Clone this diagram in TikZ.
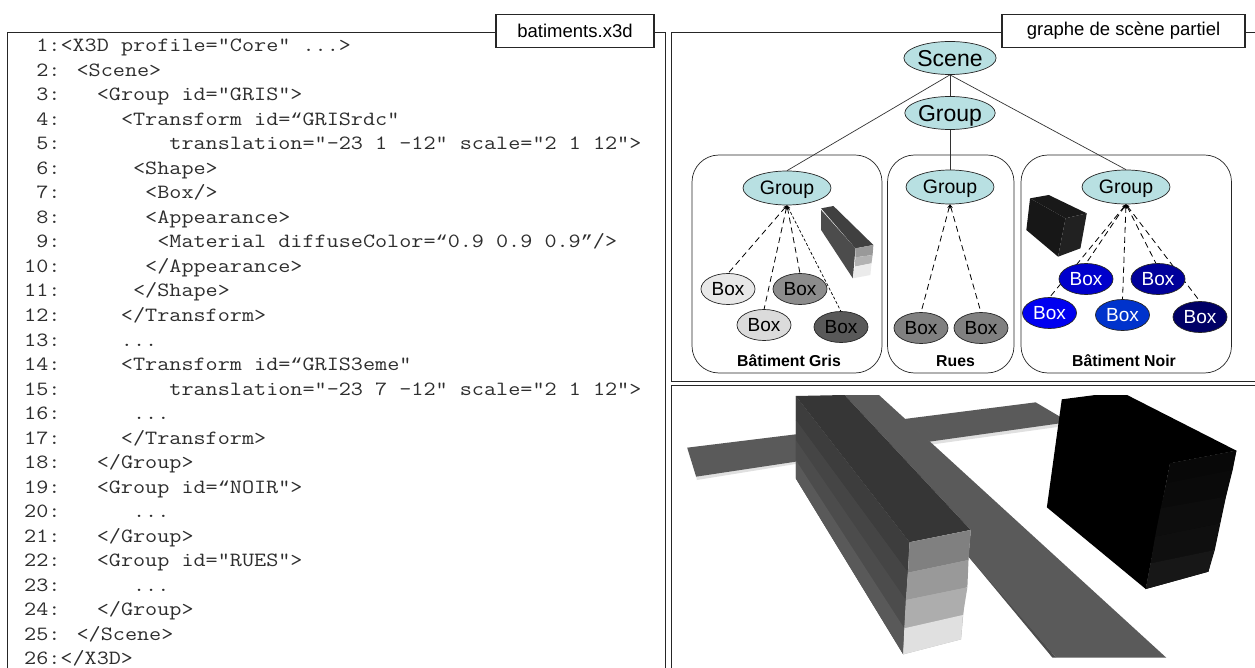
\documentclass[tikz,border=0pt]{standalone}
\usepackage{fontspec}
\setmainfont{Liberation Sans}
\newfontfamily\quotefont{Liberation Mono}
\newcommand{\openq}{{\quotefont\fontsize{20.2}{24}\selectfont “}}
\newcommand{\closeq}{{\quotefont\fontsize{20.2}{24}\selectfont ”}}
\usetikzlibrary{shapes.geometric,arrows.meta}
\definecolor{nodeblue}{HTML}{B8E0E2}
\definecolor{roadgray}{HTML}{5A5A5A}
\tikzset{
  panel/.style={line width=1pt,draw=black!85},
  tag/.style={draw=black!85,line width=1.1pt,fill=white,inner sep=0pt,font=\fontsize{18.5}{20}\selectfont},
  codetxt/.style={anchor=base west,inner sep=0pt,yscale=.86,transform shape,font=\ttfamily\fontsize{23.5}{24}\selectfont,text=black!82},
  oval/.style={ellipse,draw=black!85,line width=.7pt,inner sep=0pt,fill=nodeblue,text depth=0pt},
  topnode/.style={oval,minimum width=76pt,minimum height=33pt,font=\fontsize{23}{24}\selectfont},
  grpnode/.style={oval,minimum width=88pt,minimum height=34pt,font=\fontsize{19.5}{21}\selectfont},
  boxnode/.style={oval,minimum width=54pt,minimum height=31pt,font=\fontsize{19}{21}\selectfont},
  wbox/.style={boxnode,text=white},
  area/.style={draw=black!85,line width=.7pt,rounded corners=27pt},
  areatitle/.style={font=\bfseries\fontsize{15.8}{18}\selectfont,inner sep=0pt},
  solidlink/.style={draw=black!80,line width=.7pt},
  dashlink/.style={draw=black,line width=.8pt,dash pattern=on 6pt off 4pt,{Stealth[length=4pt,width=3.5pt]}-},
  dotlink/.style={draw=black,line width=.7pt,dash pattern=on 3pt off 2pt,{Stealth[length=4pt,width=3.5pt]}-},
  zoomA/.style={shift={(670,0)},x=0.37313pt,y=-0.33333pt},
  zoomB/.style={shift={(670,380)},x=0.37313pt,y=-0.33333pt},
}
\newcommand{\codeline}[2]{\node[codetxt] (line#1) at (24,{52+24.5*(#1-1)}) {#2};}
\begin{document}
\begin{tikzpicture}[x=1pt,y=-1pt]
\useasboundingbox (0,0) rectangle (1255,668);
\fill[white] (0,0) rectangle (1255,668);
% panels
\draw[panel] (7.5,668) -- (7.5,33) -- (665.5,33) -- (665.5,668);
\draw[panel] (1255,33) -- (671.5,33) -- (671.5,381) -- (1255,381);
\draw[panel] (1255,385) -- (671.5,385) -- (671.5,668);
\node[tag,minimum width=158pt,minimum height=33pt] (tagfile) at (575,31) {batiments.x3d};
\node[tag,minimum width=243pt,minimum height=33pt] (taggraph) at (1123.5,31) {graphe de scène partiel};
% code
\codeline{1}{~1:<X3D profile="Core" ...>}
\codeline{2}{~2: <Scene>}
\codeline{3}{~3:~~~<Group id="GRIS">}
\codeline{4}{~4:~~~~~<Transform id=\openq GRISrdc"}
\codeline{5}{~5:~~~~~~~~~translation="-23 1 -12" scale="2 1 12">}
\codeline{6}{~6:~~~~~~<Shape>}
\codeline{7}{~7:~~~~~~~<Box/>}
\codeline{8}{~8:~~~~~~~<Appearance>}
\codeline{9}{~9:~~~~~~~~<Material diffuseColor=\openq 0.9 0.9 0.9\closeq/>}
\codeline{10}{10:~~~~~~~</Appearance>}
\codeline{11}{11:~~~~~~</Shape>}
\codeline{12}{12:~~~~~</Transform>}
\codeline{13}{13:~~~~~...}
\codeline{14}{14:~~~~~<Transform id=\openq GRIS3eme"}
\codeline{15}{15:~~~~~~~~~translation="-23 7 -12" scale="2 1 12">}
\codeline{16}{16:~~~~~~...}
\codeline{17}{17:~~~~~</Transform>}
\codeline{18}{18:~~~</Group>}
\codeline{19}{19:~~~<Group id=\openq NOIR">}
\codeline{20}{20:~~~~~~...}
\codeline{21}{21:~~~</Group>}
\codeline{22}{22:~~~<Group id="RUES">}
\codeline{23}{23:~~~~~~...}
\codeline{24}{24:~~~</Group>}
\codeline{25}{25: </Scene>}
\codeline{26}{26:</X3D>}
% areas
\draw[area] (692,155) rectangle (882,373);
\draw[area] (887.5,155) rectangle (1014,373);
\draw[area] (1021,155) rectangle (1231.5,373);
\node[areatitle] (titleg) at (789,361) {Bâtiment Gris};
\node[areatitle] (titler) at (955.5,361) {Rues};
\node[areatitle] (titlen) at (1124,361) {Bâtiment Noir};
% thumbnails
\begin{scope}[zoomA]
\fill[black!70] (405,630) -- (497,745) -- (490,835) -- (405,690) -- cycle;
\fill[black!75] (405,625) -- (438,618) -- (545,735) -- (497,745) -- cycle;
\fill[black!40] (497,745) -- (545,735) -- (543,765) -- (497,772) -- cycle;
\fill[black!30] (497,772) -- (543,765) -- (540,790) -- (495,800) -- cycle;
\fill[black!8] (495,800) -- (540,790) -- (537,825) -- (490,835) -- cycle;
\fill[black!90] (965,595) -- (1015,585) -- (1117,640) -- (1060,655) -- cycle;
\fill[black!91] (965,595) -- (1060,655) -- (1040,770) -- (955,690) -- cycle;
\fill[black!87] (1060,655) -- (1117,640) -- (1100,745) -- (1040,770) -- cycle;
\end{scope}
% nodes
\node[topnode] (scene) at (950,58) {Scene};
\node[topnode] (group) at (950,113) {Group};
\node[grpnode] (gg) at (787,188) {Group};
\node[grpnode] (gr) at (950,187) {Group};
\node[grpnode] (gn) at (1126,187) {Group};
\draw[solidlink] (scene.south) -- (group.north);
\draw[solidlink] (scene.south) -- (gg.north);
\draw[solidlink] (scene.south) -- (gn.north);
\draw[solidlink] (group.south) -- (gr.north);
\coordinate (g1t) at (728,273.5);
\coordinate (g2t) at (800,273.5);
\coordinate (g3t) at (764,309.5);
\coordinate (g4t) at (841,311.5);
\coordinate (r1t) at (921,312.5);
\coordinate (r2t) at (981,312.5);
\coordinate (n1t) at (1086,263.5);
\coordinate (n2t) at (1156,263.5);
\coordinate (n3t) at (1049.5,297.5);
\coordinate (n4t) at (1122.5,299.5);
\coordinate (n5t) at (1200,301.5);
\draw[dashlink] (gg.south) -- (g1t);
\draw[dashlink] (gg.south) -- (g2t);
\draw[dashlink] (gg.south) -- (g3t);
\draw[dotlink] (gg.south) -- (g4t);
\draw[dashlink] (gr.south) -- (r1t);
\draw[dashlink] (gr.south) -- (r2t);
\draw[dashlink] (gn.south) -- (n1t);
\draw[dashlink] (gn.south) -- (n2t);
\draw[dashlink] (gn.south) -- (n3t);
\draw[dashlink] (gn.south) -- (n4t);
\draw[dashlink] (gn.south) -- (n5t);
\node[boxnode,fill=black!9] (g1) at (728,289) {Box};
\node[boxnode,fill=black!45] (g2) at (800,289) {Box};
\node[boxnode,fill=black!14] (g3) at (764,325) {Box};
\node[boxnode,fill=black!65] (g4) at (841,327) {Box};
\node[boxnode,fill=black!50] (r1) at (921,328) {Box};
\node[boxnode,fill=black!50] (r2) at (981,328) {Box};
\node[wbox,fill={rgb,255:red,0;green,0;blue,204}] (n1) at (1086,279) {Box};
\node[wbox,fill={rgb,255:red,0;green,0;blue,154}] (n2) at (1158,279) {Box};
\node[wbox,fill={rgb,255:red,0;green,0;blue,240}] (n3) at (1049.5,313) {Box};
\node[wbox,fill={rgb,255:red,0;green,51;blue,204}] (n4) at (1122.5,315) {Box};
\node[wbox,fill={rgb,255:red,0;green,0;blue,102}] (n5) at (1200,317) {Box};
% 3D view
\begin{scope}[zoomB]
\fill[black!12] (70,287) -- (337,240) -- (337,252) -- (72,300) -- cycle;
\fill[black!12] (695,183) -- (1045,128) -- (1045,140) -- (705,193) -- cycle;
\fill[roadgray] (46,203) -- (337,163) -- (337,245) -- (70,290) -- cycle;
\fill[roadgray] (628,117) -- (980,67) -- (1045,110) -- (1045,130) -- (695,185) -- cycle;
\fill[black!70] (800,530) -- (1025,833) -- (1035,833) -- (800,520) -- cycle;
\fill[roadgray] (468,45) -- (560,45) -- (1330,833) -- (1035,833) -- (800,530) -- (806,450) -- cycle;
% gray building
\fill[black!72] (337,48) -- (642,487) -- (625,823) -- (337,295) -- cycle;
\fill[black!79] (337,48) -- (468,45) -- (806,450) -- (642,487) -- cycle;
\fill[black!76] (337,48) -- (642,487) -- (638,578) -- (337,120) -- cycle;
\fill[black!73] (337,120) -- (638,578) -- (632,660) -- (337,180) -- cycle;
\fill[black!70] (337,180) -- (632,660) -- (628,745) -- (337,240) -- cycle;
\fill[black!65] (337,240) -- (628,745) -- (625,823) -- (337,295) -- cycle;
\fill[black!30] (642,487) -- (806,450) -- (780,778) -- (625,823) -- cycle;
\fill[black!50] (642,487) -- (806,450) -- (800,540) -- (638,578) -- cycle;
\fill[black!40] (638,578) -- (800,540) -- (797,622) -- (632,660) -- cycle;
\fill[black!32] (632,660) -- (797,622) -- (785,705) -- (628,745) -- cycle;
\fill[black!12] (628,745) -- (785,705) -- (780,778) -- (625,823) -- cycle;
% black block
\fill[black] (1050,58) -- (1140,45) -- (1225,45) -- (1518,212) -- (1340,250) -- (1275,627) -- (1010,382) -- cycle;
\fill[black!96] (1340,250) -- (1518,212) -- (1443,575) -- (1275,627) -- cycle;
\fill[black!97] (1340,250) -- (1518,212) -- (1508,270) -- (1330,310) -- cycle;
\fill[black!96] (1330,310) -- (1508,270) -- (1490,350) -- (1315,385) -- cycle;
\fill[black!95] (1315,385) -- (1490,350) -- (1475,430) -- (1300,470) -- cycle;
\fill[black!94] (1300,470) -- (1475,430) -- (1460,510) -- (1288,550) -- cycle;
\fill[black!91] (1288,550) -- (1460,510) -- (1443,575) -- (1275,627) -- cycle;
\end{scope}
\end{tikzpicture}
\end{document}
